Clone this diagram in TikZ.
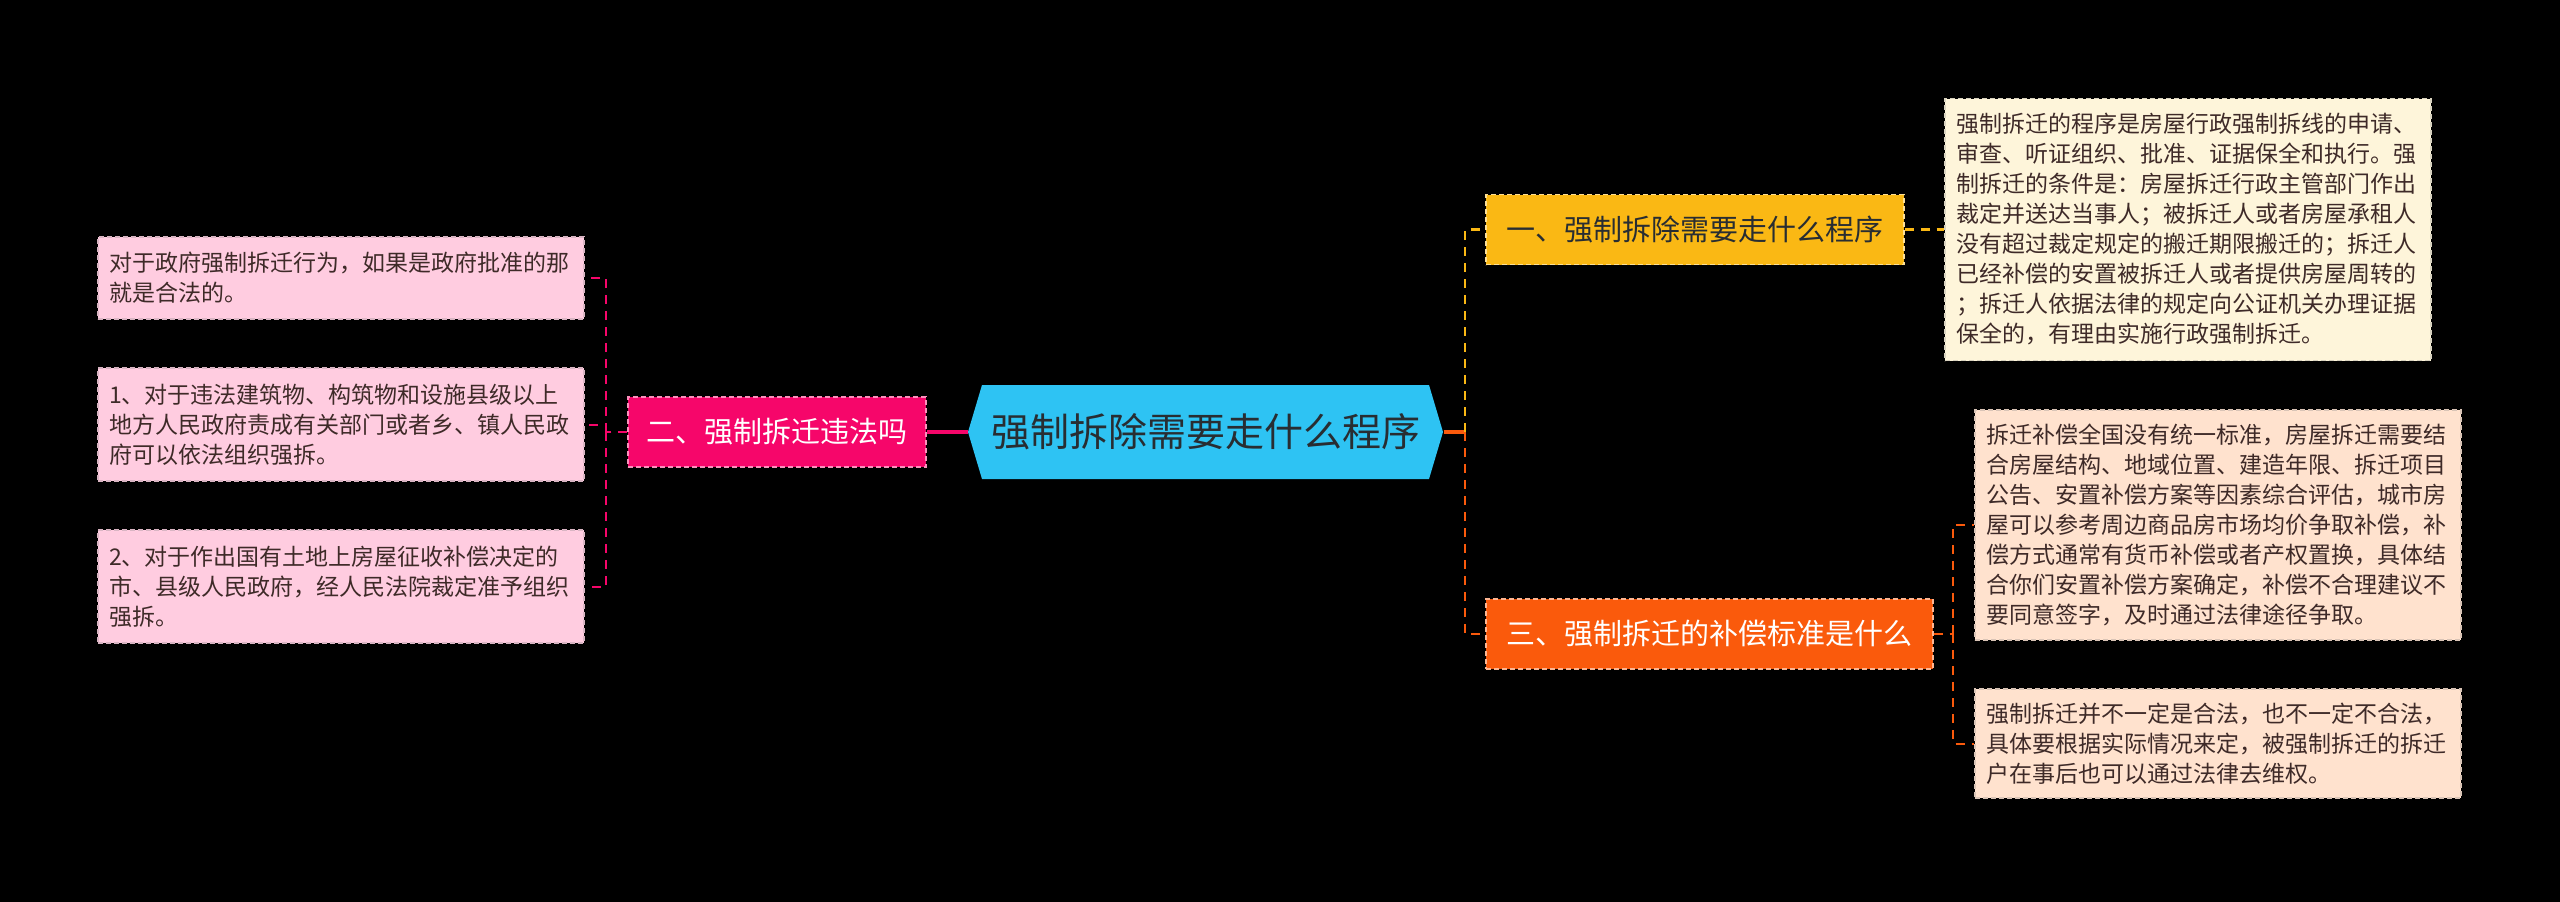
\documentclass[tikz,border=0pt]{standalone}
\usepackage{fontspec}
\newfontfamily\cjk{Noto Sans CJK SC}
\definecolor{rootfill}{RGB}{46,195,243}
\definecolor{rootink}{RGB}{40,45,50}
\definecolor{legfill}{RGB}{246,6,106}
\definecolor{procfill}{RGB}{250,184,20}
\definecolor{compfill}{RGB}{250,90,12}
\definecolor{pinkleaf}{RGB}{255,204,224}
\definecolor{creamleaf}{RGB}{254,245,218}
\definecolor{peachleaf}{RGB}{255,226,206}
\definecolor{leafink}{RGB}{62,42,40}
\tikzset{
  branchbox/.style={inner sep=0pt, minimum height=70pt, fill=#1, draw=white!55!#1,
    line width=1.2pt, dash pattern=on 5pt off 3pt, font=\cjk\fontsize{29}{34}\selectfont},
  leafbox/.style={inner sep=0pt, minimum width=486pt, text width=464pt, align=left,
    fill=#1, draw=#1!70!gray, line width=1.2pt, dash pattern=on 5pt off 3pt,
    text=leafink, font=\cjk\fontsize{23}{30}\selectfont},
  solidlink/.style={line width=4pt},
  dashlink/.style={line width=2.5pt, dash pattern=on 9pt off 7pt}
}
\begin{document}
\begin{tikzpicture}[x=1pt,y=-1pt]
 \useasboundingbox (0,0) rectangle (2560,902);
 \fill[black] (0,0) rectangle (2560,902);
 % centre
 \fill[rootfill] (968,432) -- (982,385) -- (1429,385) -- (1443,432) -- (1429,479) -- (982,479) -- cycle;
 \node[inner sep=0pt, minimum width=475pt, minimum height=94pt, text=rootink,
   font=\cjk\fontsize{39}{44}\selectfont] (root) at (1206,432) {强制拆除需要走什么程序};
 % left branch
 \node[branchbox=legfill, minimum width=298pt, text=white] (legal) at (777,432) {二、强制拆迁违法吗};
 \node[leafbox=pinkleaf, minimum height=82pt] (legalA) at (341,278)
   {对于政府强制拆迁行为，如果是政府批准的那\\就是合法的。};
 \node[leafbox=pinkleaf, minimum height=113pt] (legalB) at (341,424.5)
   {1、对于违法建筑物、构筑物和设施县级以上\\地方人民政府责成有关部门或者乡、镇人民政\\府可以依法组织强拆。};
 \node[leafbox=pinkleaf, minimum height=113pt] (legalC) at (341,586.5)
   {2、对于作出国有土地上房屋征收补偿决定的\\市、县级人民政府，经人民法院裁定准予组织\\强拆。};
 \coordinate (lj) at (606,432);
 \draw[solidlink, legfill] (root.west) -- (legal.east);
 \draw[dashlink, legfill, line width=2pt] (legal.west) -- (lj);
 \draw[dashlink, legfill, line width=2pt] (lj) |- (legalA.east);
 \draw[dashlink, legfill, line width=2pt] (lj) |- (legalB.east);
 \draw[dashlink, legfill, line width=2pt] (lj) |- (legalC.east);
 % right branches
 \node[branchbox=procfill, minimum width=418pt, text=rootink] (proc) at (1695,229.5) {一、强制拆除需要走什么程序};
 \node[branchbox=compfill, minimum width=447pt, text=white] (comp) at (1709.5,634) {三、强制拆迁的补偿标准是什么};
 \node[leafbox=creamleaf, minimum height=262pt] (procnote) at (2188,229.5)
   {强制拆迁的程序是房屋行政强制拆线的申请、\\审查、听证组织、批准、证据保全和执行。强\\制拆迁的条件是：房屋拆迁行政主管部门作出\\裁定并送达当事人；被拆迁人或者房屋承租人\\没有超过裁定规定的搬迁期限搬迁的；拆迁人\\已经补偿的安置被拆迁人或者提供房屋周转的\\；拆迁人依据法律的规定向公证机关办理证据\\保全的，有理由实施行政强制拆迁。};
 \node[leafbox=peachleaf, minimum height=230pt] (compA) at (2218,525)
   {拆迁补偿全国没有统一标准，房屋拆迁需要结\\合房屋结构、地域位置、建造年限、拆迁项目\\公告、安置补偿方案等因素综合评估，城市房\\屋可以参考周边商品房市场均价争取补偿，补\\偿方式通常有货币补偿或者产权置换，具体结\\合你们安置补偿方案确定，补偿不合理建议不\\要同意签字，及时通过法律途径争取。};
 \node[leafbox=peachleaf, minimum height=109pt] (compB) at (2218,743.5)
   {强制拆迁并不一定是合法，也不一定不合法，\\具体要根据实际情况来定，被强制拆迁的拆迁\\户在事后也可以通过法律去维权。};
 \coordinate (rj) at (1465,432);
 \coordinate (cj) at (1953,634);
 \draw[solidlink, compfill] (root.east) -- (rj);
 \draw[dashlink, procfill] (rj) |- (proc.west);
 \draw[dashlink, compfill] (rj) |- (comp.west);
 \draw[dashlink, procfill] (proc.east) -- (procnote.west);
 \draw[dashlink, compfill, line width=2pt] (comp.east) -- (cj);
 \draw[dashlink, compfill, line width=2pt] (cj) |- (compA.west);
 \draw[dashlink, compfill, line width=2pt] (cj) |- (compB.west);
\end{tikzpicture}
\end{document}
